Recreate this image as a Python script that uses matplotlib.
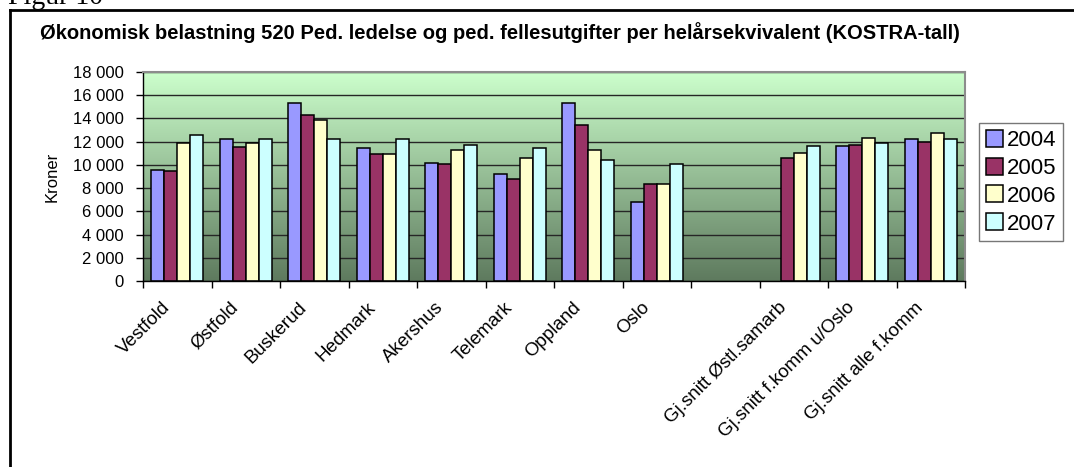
"""Økonomisk belastning 520 - KOSTRA-tall, grupperte stolper"""
import numpy as np
import matplotlib
matplotlib.use('Agg')
import matplotlib.pyplot as plt
import matplotlib.transforms as mtransforms
from matplotlib.lines import Line2D
from matplotlib.colors import LinearSegmentedColormap

plt.rcParams['font.family'] = ['Liberation Sans', 'DejaVu Sans']

# ── data ──
categories = ['Vestfold', 'Østfold', 'Buskerud', 'Hedmark', 'Akershus', 'Telemark',
              'Oppland', 'Oslo', '', 'Gj.snitt Østl.samarb', 'Gj.snitt f.komm u/Oslo',
              'Gj.snitt alle f.komm']
years = ['2004', '2005', '2006', '2007']
v2004 = [9600, 12200, 15300, 11450, 10200, 9200, 15300, 6800, np.nan, np.nan, 11600, 12200]
v2005 = [9500, 11500, 14300, 10900, 10050, 8750, 13400, 8350, np.nan, 10600, 11750, 12000]
v2006 = [11900, 11900, 13900, 10900, 11300, 10600, 11300, 8350, np.nan, 11050, 12350, 12750]
v2007 = [12600, 12200, 12200, 12200, 11750, 11450, 10450, 10050, np.nan, 11600, 11900, 12200]
yticks = list(range(0, 18001, 2000))

series = [v2004, v2005, v2006, v2007]
colors = ['#9999FF', '#993366', '#FFFFCC', '#CCFFFF']

W, H = 1074, 467
fig = plt.figure(figsize=(W / 100, H / 100), dpi=100)
ax = fig.add_axes([143 / W, 1 - 281 / H, (965 - 143) / W, (281 - 72) / H])

# gradient background of plot area
grad = LinearSegmentedColormap.from_list('bg', ['#5E7A5E', '#CCFFCC'])
ax.imshow(np.linspace(0, 1, 256).reshape(-1, 1), cmap=grad, origin='lower',
          extent=[0, 1, 0, 1], transform=ax.transAxes, aspect='auto', zorder=0)

x = np.arange(len(categories))
bw = 0.19
for i, (vals, col, yr) in enumerate(zip(series, colors, years)):
    ax.bar(x + (i - 1.5) * bw, vals, width=bw, color=col, edgecolor='black',
           linewidth=1.1, label=yr, zorder=2)

ax.set_xlim(-0.5, len(categories) - 0.5)
ax.set_ylim(0, 18000)
ax.set_yticks(yticks)
ax.set_yticklabels([f'{v:,}'.replace(',', ' ') for v in yticks], fontsize=12)
ax.set_axisbelow(True)
ax.grid(axis='y', color='#262626', linewidth=1)

ax.set_xticks(np.arange(len(categories) + 1) - 0.5)
ax.set_xticklabels([])
ax.set_xticks(x, minor=True)
ax.set_xticklabels(categories, minor=True, rotation=45, ha='right',
                   rotation_mode='anchor', fontsize=13.5)
ax.tick_params(axis='x', which='minor', length=0, pad=13)
ax.tick_params(axis='y', which='major', pad=9)
ax.tick_params(axis='both', which='major', length=5, width=1, color='black')
off = mtransforms.ScaledTranslation(-16 / 100, 0, fig.dpi_scale_trans)
for lab in ax.get_xticklabels(minor=True):
    lab.set_transform(lab.get_transform() + off)

for s in ['left', 'bottom']:
    ax.spines[s].set_color('black')
    ax.spines[s].set_linewidth(1)
for s in ['top', 'right']:
    ax.spines[s].set_color('#8C8C8C')
    ax.spines[s].set_linewidth(1.5)

ax.set_ylabel('Kroner', fontsize=12)
ax.yaxis.set_label_coords((60 - 143) / (965 - 143), 0.5)

fig.text(500 / W, 1 - 33 / H,
         'Økonomisk belastning 520 Ped. ledelse og ped. fellesutgifter per helårsekvivalent (KOSTRA-tall)',
         ha='center', va='center', fontsize=14.5, fontweight='bold')

leg = fig.legend(loc='upper left', bbox_to_anchor=(979 / W, 1 - 123 / H), fontsize=16,
                 frameon=True, fancybox=False, handlelength=0.8, handleheight=0.8,
                 handletextpad=0.15, borderpad=0.3, labelspacing=0.3, borderaxespad=0)
leg.get_frame().set_edgecolor('#555555')
leg.get_frame().set_linewidth(1)

# outer frame and cropped caption
fig.add_artist(Line2D([10 / W, 10 / W], [0, 1 - 10 / H], color='black', lw=2))
fig.add_artist(Line2D([10 / W, 1], [1 - 10 / H, 1 - 10 / H], color='black', lw=2))
fig.text(8 / W, 1 - 4 / H, 'Figur 10', family=['Liberation Serif', 'DejaVu Serif'],
         fontsize=20, ha='left', va='baseline')

fig.savefig('out.png', dpi=100)
